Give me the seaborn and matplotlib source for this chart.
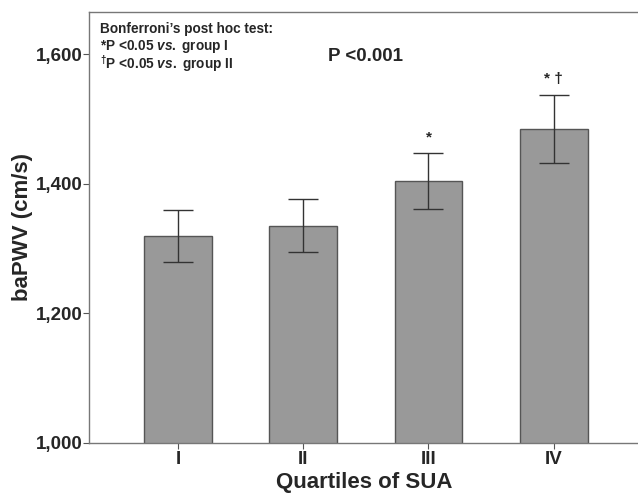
import matplotlib
matplotlib.use('Agg')
import matplotlib.pyplot as plt
import seaborn as sns
import pandas as pd

# data
quartiles = ['I', 'II', 'III', 'IV']
mean_pwv = [1319, 1335, 1404, 1484]
err_upper = [1359, 1376, 1447, 1537]
err_lower = [1279, 1295, 1361, 1432]
sig_marks = ['', '', '*', '* \u2020']

sns.set_style("white")
plt.rcParams['font.family'] = ['Liberation Sans', 'DejaVu Sans']
plt.rcParams['mathtext.fontset'] = 'custom'
plt.rcParams['mathtext.it'] = 'Liberation Sans:italic:bold'
plt.rcParams['mathtext.rm'] = 'Liberation Sans:bold'

df = pd.DataFrame({'quartile': quartiles, 'pwv': mean_pwv})

fig = plt.figure(figsize=(6.38, 4.97), dpi=100)
ax = fig.add_axes([0.1395, 0.1087, 0.862, 0.8673])

sns.barplot(x='quartile', y='pwv', data=df, color='#999999', width=0.54,
            edgecolor='#555555', linewidth=1.0, saturation=1, ax=ax)

# error bars
yerr = [[m - lo for m, lo in zip(mean_pwv, err_lower)],
        [hi - m for m, hi in zip(mean_pwv, err_upper)]]
ax.errorbar(range(len(quartiles)), mean_pwv, yerr=yerr, fmt='none',
            ecolor='#333333', elinewidth=1.0, capsize=11, capthick=1.0)

# significance marks above error bars
for i, mark in enumerate(sig_marks):
    if mark:
        ax.text(i, err_upper[i] + 14, mark, ha='center', va='bottom',
                fontsize=11, fontweight='bold')

ax.set_ylim(1000, 1665)
ax.set_xlim(-0.71, 3.68)
ax.set_yticks([1000, 1200, 1400, 1600])
ax.set_yticklabels(['1,000', '1,200', '1,400', '1,600'])
ax.tick_params(axis='both', labelsize=13.5, length=4, width=0.8,
               color='#555555', direction='out', left=True, bottom=True, pad=2)
ax.tick_params(axis='y', pad=0.5)
for lab in ax.get_xticklabels() + ax.get_yticklabels():
    lab.set_fontweight('bold')

ax.set_xlabel('Quartiles of SUA', fontsize=16, fontweight='bold', labelpad=3)
ax.set_ylabel('baPWV (cm/s)', fontsize=16, fontweight='bold', labelpad=2)

for spine in ax.spines.values():
    spine.set_color('#777777')
    spine.set_linewidth(1.0)

# annotation box text
ax.text(0.02, 0.977, "Bonferroni\u2019s post hoc test:", transform=ax.transAxes,
        fontsize=9.8, fontweight='bold', va='top')
ax.text(0.02, 0.940, r"*P <0.05 $\mathit{vs.}$ group I", transform=ax.transAxes,
        fontsize=9.8, fontweight='bold', va='top')
ax.text(0.02, 0.904, r"$^{\dagger}$P <0.05 $\mathit{vs.}$ group II", transform=ax.transAxes,
        fontsize=9.8, fontweight='bold', va='top')
ax.text(0.435, 0.876, 'P <0.001', transform=ax.transAxes,
        fontsize=13.5, fontweight='bold', va='bottom')

plt.savefig('out.png', dpi=100)
